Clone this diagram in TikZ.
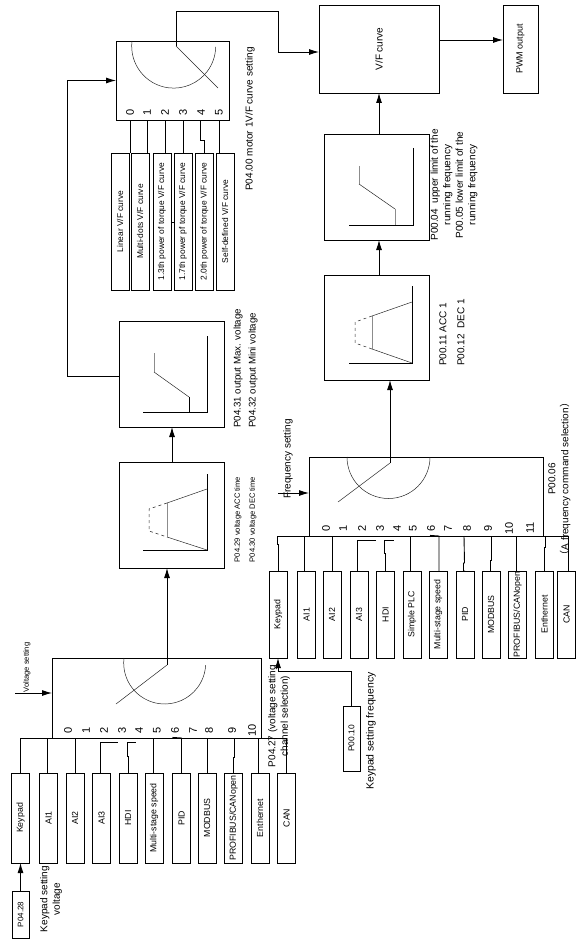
\documentclass[tikz,border=0pt]{standalone}
\usepackage{fontspec}
\setmainfont{Liberation Sans}
\newfontfamily\cjk{Noto Sans CJK SC}
\usetikzlibrary{arrows.meta}

\begin{document}
\begin{tikzpicture}[x=1pt, y=-1pt,
   blk/.style={draw, line width=0.9pt, minimum width=#1, inner sep=0pt, outer sep=0pt},
   blk/.default=105pt,
   vsrc/.style={draw, line width=0.9pt, rotate=90, minimum width=90pt, minimum height=18pt,
                inner sep=0pt, outer sep=0pt, font=\fontsize{8.8}{10}\selectfont},
   fsrc/.style={vsrc, minimum width=87pt},
   csrc/.style={vsrc, minimum width=137pt, font=\fontsize{8.4}{10}\selectfont},
   num/.style={rotate=90, inner sep=0pt, font=\fontsize{11}{12}\selectfont},
   lbl/.style={rotate=90, inner sep=0pt, align=center, font=\fontsize{10}{12.5}\selectfont},
   tiny/.style={lbl, font=\fontsize{7.6}{9}\selectfont},
   conn/.style={line width=0.9pt},
   arr/.style={line width=0.9pt, -{Latex[length=10pt,width=6pt]}},
   curve/.style={line width=0.5pt, black!85},
   axis/.style={line width=0.9pt},
   ghost/.style={line width=0.8pt, black!45}]

  \useasboundingbox (0,0) rectangle (586,944);

  % ===== voltage channel =====
  \node[blk, minimum width=209pt, minimum height=80pt] (vSw) at (156.5,698) {};
  \coordinate (vBusL) at (20,738);
  \coordinate (vBusR) at (287,738);
  \coordinate (vPivot) at (167,665);
  \coordinate (vFree) at (116,704);
  \draw[conn] (vBusL) -- (vBusR);
  \draw[curve] (124,658) arc[start angle=173, end angle=357, radius=41pt];
  \draw[curve] (vPivot) -- (vFree);
  % numbers
  \node[num] (vn0) at (68,730) {0};
  \node[num] (vn1) at (86,730) {1};
  \node[num] (vn2) at (104,730) {2};
  \node[num] (vn3) at (122,730) {3};
  \node[num] (vn4) at (139,730) {4};
  \node[num] (vn5) at (157,730) {5};
  \node[num] (vn6) at (175,730) {6};
  \node[num] (vn7) at (193,730) {7};
  \node[num] (vn8) at (209,730) {8};
  \node[num] (vn9) at (232,730) {9};
  \node[num] (vn10) at (252,730) {10};
  % sources
  \node[vsrc] (vKeypad) at (20.5,818) {Keypad};
  \node[vsrc] (vAIone) at (48.5,818) {AI1};
  \node[vsrc] (vAItwo) at (75,818) {AI2};
  \node[vsrc] (vAIthree) at (101.5,818) {AI3};
  \node[vsrc] (vHDI) at (128,818) {HDI};
  \node[vsrc] (vMulti) at (154,818) {Multi-stage speed};
  \node[vsrc] (vPID) at (181.5,818) {PID};
  \node[vsrc] (vModbus) at (207,818) {MODBUS};
  \node[vsrc] (vProfi) at (233.5,818) {PROFIBUS/CANopen};
  \node[vsrc] (vEther) at (260,818) {Enthernet};
  \node[vsrc] (vCan) at (286.5,818) {CAN};
  \draw[conn] (vKeypad.east) -- (vKeypad.east |- vBusL);
  \draw[conn] ([xshift=-1.5pt]vAIone.east) -- ([xshift=-1.5pt]vAIone.east |- vBusL);
  \draw[conn] (vAItwo.east) -- (vAItwo.east |- vBusL);
  \draw[conn] ([xshift=-1.5pt]vAIthree.east) |- ++(18,-31);
  \draw[conn] (vHDI.east) -- ++(0,-17) -- ++(-1,0) |- ++(9,-14);
  \draw[conn] ([xshift=-1pt]vMulti.east) -- ([xshift=-1pt]vMulti.east |- vBusL);
  \draw[conn] (vPID.east) -- (vPID.east |- vBusL) -- ++(-9,-0.6);
  \draw[conn] (vModbus.east) -- (vModbus.east |- vBusL);
  \draw[conn] (vProfi.east) -- ++(0,-16) -- ++(1,0) -- (234.5,738);
  \draw[conn] ([xshift=-2pt]vEther.east) -- ([xshift=-2pt]vEther.east |- vBusL);
  \draw[conn] (vCan.east) -- (vCan.east |- vBusR);
  % inputs and labels
  \node[draw, line width=0.9pt, rotate=90, minimum width=47pt, minimum height=17pt, inner sep=0pt,
        font=\fontsize{8}{10}\selectfont] (vParam) at (20.5,914.5) {P04.28};
  \draw[arr] (vParam.east) -- (vKeypad.west);
  \node[lbl] (vKeyLbl) at (51,899) {Keypad setting\\voltage};
  \node[tiny] (vSetLbl) at (27,667.5) {Voltage setting};
  \coordinate (vIn) at (15,693);
  \draw[arr] (vIn) -- (vIn -| vSw.west);
  \node[lbl] (vChanLbl) at (279,716) {P04.27 (voltage setting\\channel selection)};

  % ===== voltage ramp and limits =====
  \node[blk, minimum height=106pt] (vRamp) at (171.5,515) {};
  \draw[arr] (vPivot) -- (vPivot |- vRamp.south);
  \draw[axis] (207,474) -- (207,550) -- (143,550);
  \draw[curve] (207,489) -- (167,503);
  \draw[curve] (207,550) -- (167,537);
  \draw[ghost] (167,503) -- (167,537);
  \draw[curve, dashed] (167,503) -- (149,509) -- (149,531) -- (167,537);
  \node[tiny] (vAccLbl) at (238,519.5) {P04.29 voltage ACC time};
  \node[tiny] (vDecLbl) at (253,519.5) {P04.30 voltage DEC time};

  \node[blk, minimum height=106pt] (vLimit) at (171.5,374) {};
  \draw[arr] (vRamp.north -| 172,0) -- (vLimit.south -| 172,0);
  \draw[axis] (207,336) -- (207,412) -- (143,412);
  \draw[ghost] (154,353) -- (154,372);
  \draw[curve] (154,372) -- (189,397);
  \draw[axis] (189,397) -- (189,412);
  \node[lbl, anchor=west, font=\fontsize{9.7}{12}\selectfont] (vMaxLbl) at (238,428) {P04.31 output Max. voltage};
  \node[lbl, anchor=west, font=\fontsize{9.7}{12}\selectfont] (vMinLbl) at (253,428) {P04.32 output Mini voltage};

  % ===== V/F curve selection =====
  \node[blk, minimum width=113pt, minimum height=79pt] (cSw) at (172.5,80.5) {};
  \coordinate (cPivot) at (176,46);
  \coordinate (cFree) at (218,88);
  \coordinate (cTurn) at (278,11);
  \coordinate (cBack) at (67,376);
  \draw[curve] (132,41) arc[start angle=173, end angle=359, radius=42pt];
  \draw[curve] (cPivot) -- (cFree);
  \draw[arr] (vLimit.west |- cBack) -- (cBack) |- (cSw.west);
  \node[num] (cn0) at (130,112) {0};
  \node[num] (cn1) at (147,112) {1};
  \node[num] (cn2) at (165,112) {2};
  \node[num] (cn3) at (183,112) {3};
  \node[num] (cn4) at (201,112) {4};
  \node[num] (cn5) at (219,112) {5};
  \node[csrc] (cLinear) at (120,221.5) {Linear V/F curve};
  \node[csrc] (cMulti) at (140,221.5) {Multi-dots V/F curve};
  \node[csrc] (cOne) at (162,221.5) {1.3th power of torque V/F curve};
  \node[csrc] (cSeven) at (183,221.5) {1.7th power pf torque V/F curve};
  \node[csrc] (cTwo) at (204.5,221.5) {2.0th power of torque V/F curve};
  \node[csrc] (cSelf) at (225,221.5) {Self-defined V/F curve};
  \draw[conn] ([xshift=10pt]cLinear.east) -- ([xshift=10pt]cLinear.east |- cSw.south);
  \draw[conn] ([xshift=7pt]cMulti.east) -- ([xshift=7pt]cMulti.east |- cSw.south);
  \draw[conn] ([xshift=3pt]cOne.east) -- ([xshift=3pt]cOne.east |- cSw.south);
  \draw[conn] (cSeven.east) -- (cSeven.east |- cSw.south);
  \draw[conn] (cTwo.east) -- ++(0,-13) -- ++(-4,0) -- (200.5,120);
  \draw[conn] ([xshift=-6pt]cSelf.east) -- ([xshift=-6pt]cSelf.east |- cSw.south);
  \draw[line width=0.3pt] (cOne.south |- 0,222) -- (cSeven.north |- 0,222);
  \node[lbl] (cLbl) at (250,119) {P04.00 motor 1V/F curve setting};

  % ===== frequency channel =====
  \node[blk, minimum width=234pt, minimum height=79pt] (fSw) at (426,496.5) {};
  \coordinate (fBusL) at (277,536);
  \coordinate (fBusR) at (568,536);
  \coordinate (fPivot) at (390,463);
  \coordinate (fFree) at (338,502);
  \draw[conn] (fBusL) -- (fBusR);
  \draw[curve] (347,457) arc[start angle=180, end angle=360, radius=41.5pt];
  \draw[curve] (fPivot) -- (fFree);
  \node[num] (fn0) at (326,528) {0};
  \node[num] (fn1) at (343,528) {1};
  \node[num] (fn2) at (362,528) {2};
  \node[num] (fn3) at (380,528) {3};
  \node[num] (fn4) at (397,528) {4};
  \node[num] (fn5) at (413,528) {5};
  \node[num] (fn6) at (431,528) {6};
  \node[num] (fn7) at (448,528) {7};
  \node[num] (fn8) at (467,528) {8};
  \node[num] (fn9) at (488,528) {9};
  \node[num] (fn10) at (509,528) {10};
  \node[num] (fn11) at (530,528) {11};
  \node[fsrc] (fKeypad) at (278,614.5) {Keypad};
  \node[fsrc] (fAIone) at (306.5,614.5) {AI1};
  \node[fsrc] (fAItwo) at (332,614.5) {AI2};
  \node[fsrc] (fAIthree) at (359,614.5) {AI3};
  \node[fsrc] (fHDI) at (385.5,614.5) {HDI};
  \node[fsrc] (fPLC) at (412,614.5) {Simple PLC};
  \node[fsrc] (fMulti) at (438,614.5) {Multi-stage speed};
  \node[fsrc] (fPID) at (465,614.5) {PID};
  \node[fsrc] (fModbus) at (491,614.5) {MODBUS};
  \node[fsrc] (fProfi) at (517.5,614.5) {PROFIBUS/CANopen};
  \node[fsrc] (fEther) at (544.5,614.5) {Enthernet};
  \node[fsrc] (fCan) at (566.5,614.5) {CAN};
  \draw[conn] (fKeypad.east) -- ++(0,-27) -- ++(-1,0) -- (fBusL);
  \draw[conn] ([xshift=-2.5pt]fAIone.east) -- ([xshift=-2.5pt]fAIone.east |- fBusL);
  \draw[conn] (fAItwo.east) -- (fAItwo.east |- fBusL);
  \draw[conn] ([xshift=-2pt]fAIthree.east) |- ++(19,-31);
  \draw[conn] (fHDI.east) -- ++(0,-18) -- ++(-1,0) |- ++(9,-13);
  \draw[conn] ([xshift=-2pt]fPLC.east) -- ([xshift=-2pt]fPLC.east |- fBusL);
  \draw[conn] ([xshift=1pt]fMulti.east) -- ([xshift=1pt]fMulti.east |- fBusL) -- ++(-9,-0.6);
  \draw[conn] (fPID.east) -- ++(-1.5,0) -- ++(0,-8) -- ++(1,0) -- (464,536);
  \draw[conn] (fModbus.east) -- ++(-1,0) -- ++(0,-11) -- ++(1,0) -- (491,536);
  \draw[conn] ([xshift=-1.5pt]fProfi.east) -- ([xshift=-1.5pt]fProfi.east |- fBusL);
  \draw[conn] (fEther.east) -- ++(0,-24) -- ++(1,0) -- (545.5,536);
  \draw[conn] ([xshift=1.5pt]fCan.east) -- ([xshift=1.5pt]fCan.east |- fBusR);
  % keypad setting frequency
  \node[draw, line width=0.9pt, rotate=90, minimum width=65pt, minimum height=17pt, inner sep=0pt,
        font=\fontsize{8.4}{10}\selectfont] (fParam) at (351.5,738.5) {P00.10};
  \coordinate (fTurn) at (278,671);
  \draw[arr] (fParam.east) |- (fTurn) -- (fKeypad.west);
  \node[lbl, font=\fontsize{10.4}{12}\selectfont] (fKeyLbl) at (371,731) {Keypad setting frequency};
  \node[lbl] (fSetLbl) at (288,459) {Frequency setting};
  \coordinate (fIn) at (278,493);
  \draw[arr] (fIn) -- (fIn -| fSw.west);
  \node[lbl] (fParLbl) at (552,479) {P00.06};
  \node[lbl] (fSelLbl) at (565,479) {{\cjk （}A frequency command selection{\cjk ）}};

  % ===== frequency ramp and limits =====
  \node[blk, minimum height=105pt] (fRamp) at (377,327.5) {};
  \draw[arr] (fPivot) -- (fPivot |- fRamp.south);
  \draw[axis] (412,286) -- (412,363) -- (349,363);
  \draw[curve] (412,302) -- (372,316);
  \draw[curve] (412,363) -- (372,349);
  \draw[ghost] (372,316) -- (372,349);
  \draw[curve, dashed] (372,316) -- (355,322) -- (355,343) -- (372,349);
  \node[lbl, anchor=west] (fAccLbl) at (443,366) {P00.11 ACC 1};
  \node[lbl, anchor=west] (fDecLbl) at (461,366) {P00.12\ \ DEC 1};

  \node[blk, minimum height=106pt] (fLimit) at (377,187) {};
  \draw[arr] (fRamp.north -| 379,0) -- (fLimit.south -| 379,0);
  \draw[axis] (413,148) -- (413,225) -- (349,225);
  \draw[ghost] (359,166) -- (359,184);
  \draw[curve] (359,184) -- (395,209);
  \draw[ghost] (395,209) -- (395,225);
  \node[lbl] (fLimLbl) at (454,185) {P00.04\ \ upper limit of the\\running frequency\\P00.05 lower limit of the\\running frequency};

  % ===== output =====
  \node[draw, line width=0.9pt, rotate=90, minimum width=88pt, minimum height=120pt, inner sep=0pt,
        outer sep=0pt, font=\fontsize{10}{12}\selectfont] (vfBox) at (379,49) {V/F curve};
  \node[draw, line width=0.9pt, rotate=90, minimum width=88pt, minimum height=35pt, inner sep=0pt,
        outer sep=0pt, font=\fontsize{9}{12}\selectfont] (pwmBox) at (520.5,49) {PWM output};
  \coordinate (vfIn) at (319,52);
  \draw[arr] (fLimit.north -| 379,0) -- (379,93);
  \draw[arr] (cPivot) |- (cTurn) |- (vfIn);
  \draw[arr] (439,40) -- (503,40);

\end{tikzpicture}
\end{document}
